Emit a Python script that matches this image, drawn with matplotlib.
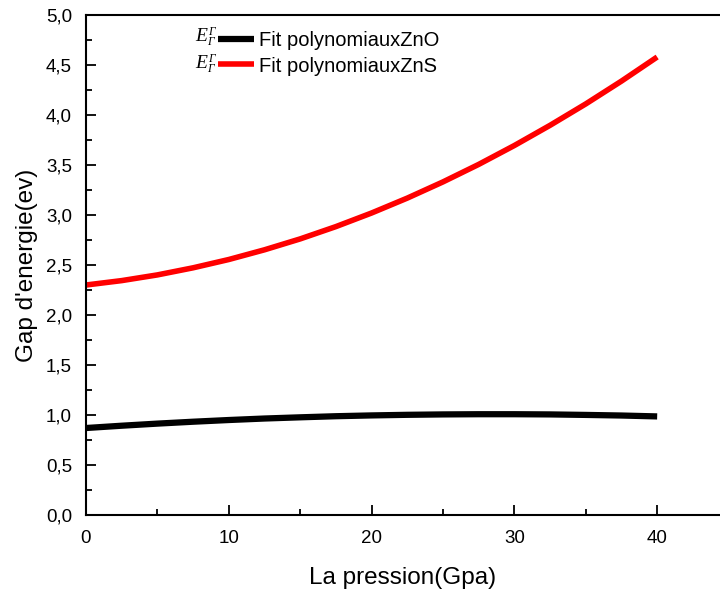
import numpy as np
import matplotlib
matplotlib.use("Agg")
import matplotlib.pyplot as plt
from matplotlib.ticker import MultipleLocator, FuncFormatter

plt.rcParams['font.family'] = ['Liberation Sans', 'DejaVu Sans']

pression = [0, 2.5, 5, 7.5, 10, 12.5, 15, 17.5, 20, 22.5, 25, 27.5, 30, 32.5, 35, 37.5, 40]
gap_zno = [0.870, 0.893, 0.914, 0.933, 0.950, 0.965, 0.977, 0.988, 0.996, 1.002,
           1.006, 1.008, 1.008, 1.006, 1.001, 0.995, 0.986]
gap_zns = [2.300, 2.344, 2.401, 2.472, 2.555, 2.652, 2.761, 2.884, 3.020, 3.169,
           3.331, 3.506, 3.695, 3.897, 4.111, 4.339, 4.580]
labels = ["Fit polynomiauxZnO", "Fit polynomiauxZnS"]

fig = plt.figure(figsize=(7.2, 5.93), dpi=100)
ax = fig.add_axes([0.1194, 0.1315, 0.8806, 0.8432])

ax.plot(pression, gap_zno, color='black', lw=4.5, solid_capstyle='butt', label=labels[0])
ax.plot(pression, gap_zns, color='red', lw=4.0, solid_capstyle='butt', label=labels[1])

ax.set_xlim(0, 44.4)
ax.set_ylim(0, 5)
ax.xaxis.set_major_locator(MultipleLocator(10))
ax.xaxis.set_minor_locator(MultipleLocator(5))
ax.yaxis.set_major_locator(MultipleLocator(0.5))
ax.yaxis.set_minor_locator(MultipleLocator(0.25))
ax.yaxis.set_major_formatter(FuncFormatter(lambda v, p: f"{v:.1f}".replace('.', ',')))

ax.tick_params(which='both', direction='in', width=1.3, labelsize=13.5, top=False, right=False)
ax.tick_params(which='major', length=7)
ax.tick_params(axis='x', which='major', pad=11)
ax.tick_params(axis='y', which='major', pad=10)
ax.tick_params(which='minor', length=4)
ax.spines['right'].set_visible(False)
for s in ('left', 'bottom', 'top'):
    ax.spines[s].set_linewidth(1.5)

ax.set_xlabel("La pression(Gpa)", fontsize=17.5, labelpad=14)
ax.set_ylabel("Gap d'energie(ev)", fontsize=17.5, labelpad=6)

leg = ax.legend(loc='center left', bbox_to_anchor=(0.208, 0.923), frameon=False,
                fontsize=14.5, handlelength=1.8, handletextpad=0.25, labelspacing=0.3,
                borderpad=0, borderaxespad=0)

# symbole E (indice et exposant Gamma) devant chaque entrée de la légende
serif_it = dict(family='Liberation Serif', style='italic', xycoords='axes fraction',
                textcoords='offset points', ha='left', va='baseline')
for y in (0.950, 0.896):
    ax.annotate("E", (0.208, y), xytext=(-16.0, -0.7), fontsize=14, **serif_it)
    ax.annotate("Γ", (0.208, y), xytext=(-7.2, 3.6), fontsize=8.5, **serif_it)
    ax.annotate("Γ", (0.208, y), xytext=(-7.6, -3.8), fontsize=8.5, **serif_it)

fig.savefig("out.png", dpi=100)
